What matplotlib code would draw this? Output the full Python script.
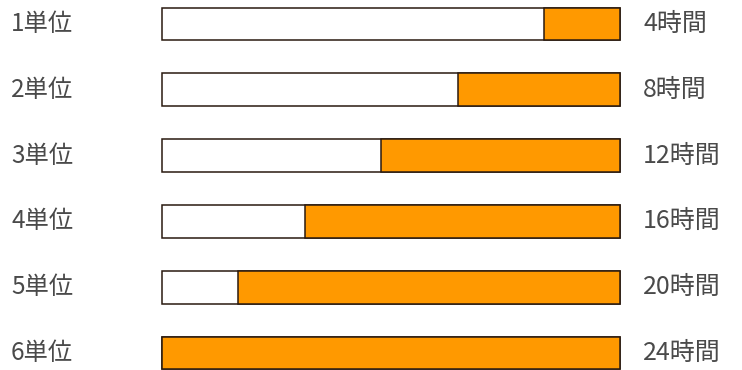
import numpy as np
import matplotlib
matplotlib.use("Agg")
import matplotlib.pyplot as plt
import matplotlib.transforms as mtransforms

plt.rcParams['font.family'] = ['Noto Sans CJK JP', 'DejaVu Sans']

# data
units = ["1単位", "2単位", "3単位", "4単位", "5単位", "6単位"]
hours = [4.0, 8.5, 12.5, 16.5, 20.0, 24.0]
hour_labels = ["4時間", "8時間", "12時間", "16時間", "20時間", "24時間"]
total = 24

W, H = 742, 370
fig = plt.figure(figsize=(W / 100, H / 100), dpi=100)
ax = fig.add_axes([0, 0, 1, 1])

# pixel layout -> data limits
x0_px, x1_px = 162, 620
px_per_h = (x1_px - x0_px) / total
ax.set_xlim(-x0_px / px_per_h, (W - x0_px) / px_per_h)
row0_px, pitch = 24, 65.8
ax.set_ylim(5 + (H - (row0_px + 5 * pitch)) / pitch, -row0_px / pitch)
ax.axis('off')

y = np.arange(len(units))
ax.barh(y, [total] * len(y), left=0, height=0.5, color='white',
        edgecolor='#2a1a10', linewidth=1.1, zorder=2)
ax.barh(y, hours, left=[total - h for h in hours], height=0.5,
        color='#ff9900', edgecolor='#2a1a10', linewidth=1.1, zorder=3)

tr = mtransforms.blended_transform_factory(ax.transAxes, ax.transData)
for i in range(len(units)):
    ax.text(11 / W, i, units[i], transform=tr, ha='left', va='center',
            fontsize=17.5, color='#4a4a4a')
    ax.text(643 / W, i, hour_labels[i], transform=tr, ha='left', va='center',
            fontsize=18, color='#4a4a4a')

fig.savefig("out.png", dpi=100)
